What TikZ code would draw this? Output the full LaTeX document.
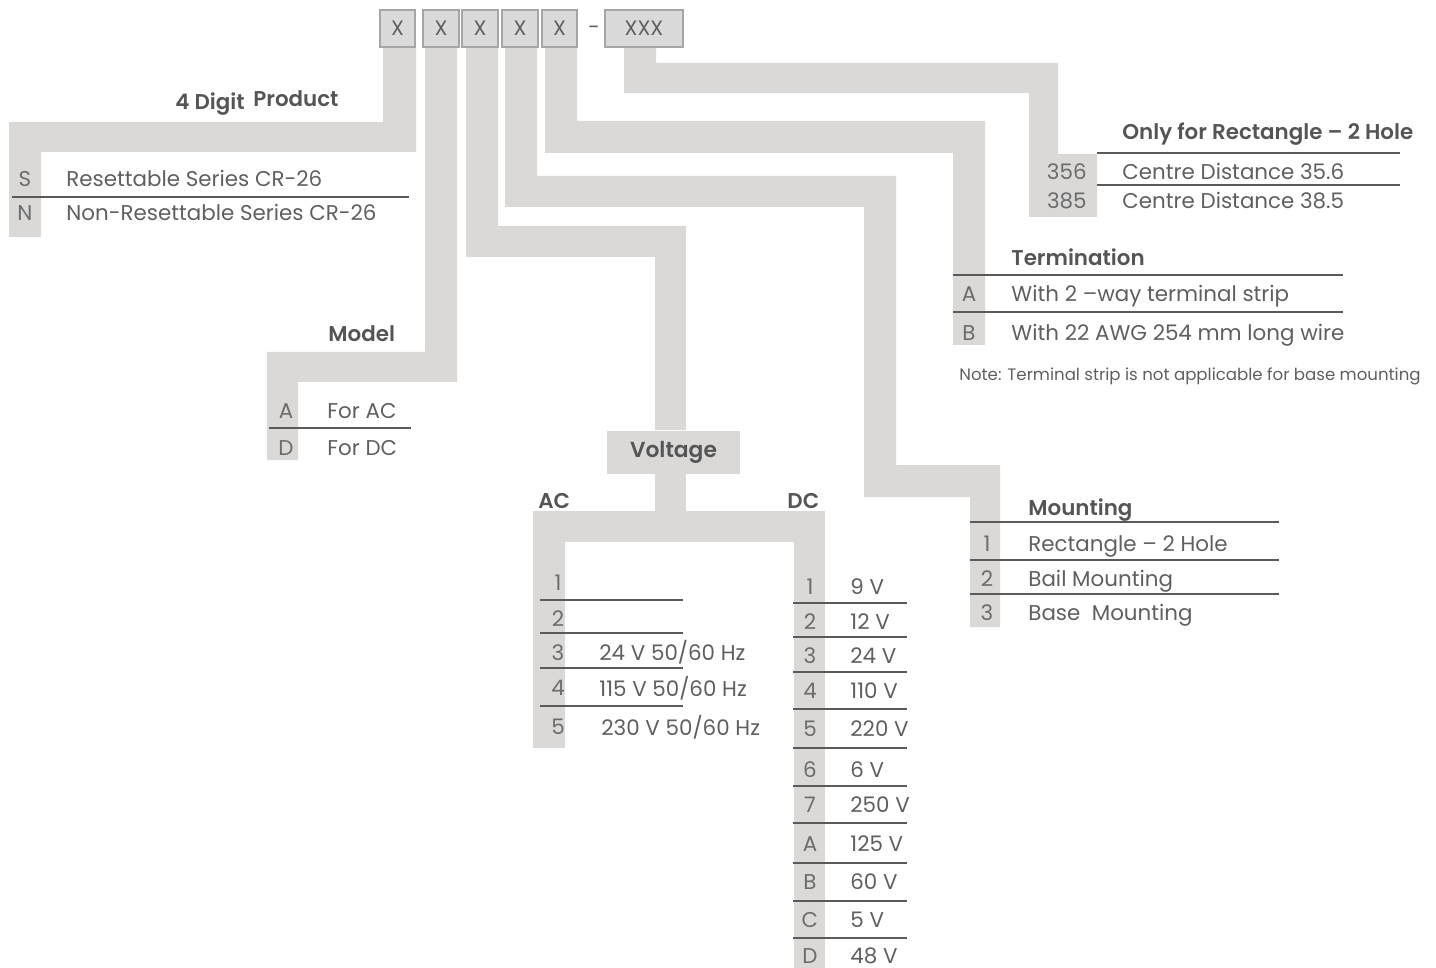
\documentclass[tikz,border=0pt]{standalone}
\usepackage{fontspec}
\setmainfont{Poppins}[BoldFont=* SemiBold]
\newcommand\mainsz{\fontsize{10.7}{12}\selectfont}
\begin{document}
\begin{tikzpicture}[x=0.5pt,y=-0.5pt,
  txt/.style={inner sep=0pt,anchor=base west,text=txtgray,font=\mainsz},
  lab/.style={inner sep=0pt,anchor=base,text=labgray,font=\mainsz},
  rlab/.style={inner sep=0pt,anchor=base east,text=labgray,font=\mainsz},
  hdr/.style={inner sep=0pt,anchor=base west,text=hdrgray,font=\mainsz\bfseries},
  note/.style={inner sep=0pt,anchor=base west,text=txtgray,font=\fontsize{8.3}{10}\selectfont},
  rule/.style={draw=rulegray,line width=0.6pt},
  bar/.style={fill=barfill},
  digit/.style={draw=boxedge,fill=boxfill,line width=1pt,inner sep=0pt,text=txtgray,font=\fontsize{10.4}{12}\selectfont,minimum height=18.5pt}
]
\definecolor{barfill}{RGB}{218,217,216}
\definecolor{boxfill}{RGB}{218,218,218}
\definecolor{boxedge}{RGB}{166,166,166}
\definecolor{txtgray}{RGB}{95,95,95}
\definecolor{labgray}{RGB}{108,108,108}
\definecolor{hdrgray}{RGB}{85,85,85}
\definecolor{rulegray}{RGB}{90,90,90}
\path[use as bounding box] (0,0) rectangle (1436,968);

% ---- bars ----
\fill[bar] (383,47) -- (416,47) -- (416,152) -- (41,152) -- (41,237) -- (9,237) -- (9,122) -- (383,122) -- cycle;
\fill[bar] (425,47) -- (457,47) -- (457,382) -- (298,382) -- (298,460) -- (267,460) -- (267,352) -- (425,352) -- cycle;
\fill[bar] (466,47) -- (498,47) -- (498,226) -- (686,226) -- (686,430) -- (655,430) -- (655,257) -- (466,257) -- cycle;
\fill[bar] (505,47) -- (537,47) -- (537,176) -- (896,176) -- (896,465) -- (1000,465) -- (1000,627) -- (970,627) -- (970,497) -- (864,497) -- (864,207) -- (505,207) -- cycle;
\fill[bar] (545,47) -- (577,47) -- (577,121) -- (985,121) -- (985,345) -- (953,345) -- (953,153) -- (545,153) -- cycle;
\fill[bar] (624,47) -- (656,47) -- (656,63) -- (1058,63) -- (1058,154) -- (1097,154) -- (1097,217) -- (1029,217) -- (1029,93) -- (624,93) -- cycle;
% voltage tree
\node[bar,minimum width=66.5pt,minimum height=21.5pt,inner sep=0pt,text=hdrgray,font=\fontsize{10.9}{12}\selectfont\bfseries] (volt) at (673.5,452) {Voltage};
\fill[bar] (655,473) rectangle (686,511);
\fill[bar] (533,511) rectangle (825,542);
\fill[bar] (533,542) rectangle (565,748);
\fill[bar] (794,542) rectangle (825,968);

% ---- top code boxes ----
\node[digit,minimum width=17.5pt] (b1) at (397.5,28.5) {X};
\node[digit,minimum width=18pt] (b2) at (441,28.5) {X};
\node[digit,minimum width=18pt] (b3) at (480,28.5) {X};
\node[digit,minimum width=18pt] (b4) at (520,28.5) {X};
\node[digit,minimum width=17.5pt] (b5) at (559.5,28.5) {X};
\node[inner sep=0pt,text=txtgray,font=\fontsize{10.4}{12}\selectfont] (dash) at (594,30) {-};
\node[digit,minimum width=39pt] (b6) at (644,28.5) {XXX};

% ---- 4 digit product ----
\node[hdr] (h1a) at (175,110) {4 Digit};
\node[hdr] (h1b) at (253,107) {Product};
\node[lab] (s) at (25,187) {S};
\node[txt] (st) at (66,187) {Resettable Series CR-26};
\draw[rule] (12,197) -- (409,197);
\node[lab] (n) at (25,221) {N};
\node[txt] (nt) at (66,221) {Non-Resettable Series CR-26};

% ---- model ----
\node[hdr] (h2) at (328,342) {Model};
\node[lab] (ma) at (286,419) {A};
\node[txt] (mat) at (327,419) {For AC};
\draw[rule] (269,428) -- (411,428);
\node[lab] (md) at (286,455) {D};
\node[txt] (mdt) at (327,455) {For DC};

% ---- AC / DC ----
\node[hdr] (ac) at (538,508) {AC};
\node[hdr] (dc) at (787,508) {DC};
\foreach \n/\y in {1/590,2/626,3/660,4/695,5/734} {\node[lab] (ac\n) at (558,\y) {\n};}
\foreach \y in {600,633,668,706} {\draw[rule] (540,\y) -- (683,\y);}
\node[txt] (ac3t) at (599,660) {24 V 50/60 Hz};
\node[txt] (ac4t) at (599,696) {115 V 50/60 Hz};
\node[txt] (ac5t) at (601,735) {230 V 50/60 Hz};
\foreach \n/\v/\y in {1/9 V/594,2/12 V/629,3/24 V/663,4/110 V/698,5/220 V/736,6/6 V/777,7/250 V/812,A/125 V/851,B/60 V/889,C/5 V/927,D/48 V/963} {
  \node[lab] (dcn\n) at (810,\y) {\n};
  \node[txt] (dcv\n) at (850,\y) {\v};
}
\foreach \y in {603,637,672,709,748,786,823,863,901,938} {\draw[rule] (793,\y) -- (907,\y);}

% ---- mounting ----
\node[hdr] (h4) at (1028,515) {Mounting};
\draw[rule] (970,522) -- (1279,522);
\node[lab] (m1) at (987,551) {1};
\node[txt] (m1t) at (1028,551) {Rectangle – 2 Hole};
\draw[rule] (970,560) -- (1279,560);
\node[lab] (m2) at (987,586) {2};
\node[txt] (m2t) at (1028,586) {Bail Mounting};
\draw[rule] (970,594) -- (1279,594);
\node[lab] (m3) at (987,620) {3};
\node[txt] (m3t) at (1028,620) {Base\ \ Mounting};

% ---- termination ----
\node[hdr] (h5) at (1011,266) {Termination};
\draw[rule] (953,275) -- (1343,275);
\node[lab] (ta) at (969,302) {A};
\node[txt] (tat) at (1011,302) {With 2 –way terminal strip};
\draw[rule] (953,312) -- (1343,312);
\node[lab] (tb) at (969,341) {B};
\node[txt] (tbt) at (1011,341) {With 22 AWG 254 mm long wire};
\node[note] (nt5) at (959,380) {Note: Terminal strip is not applicable for base mounting};

% ---- rectangle option ----
\node[hdr] (h6) at (1122,140) {Only for Rectangle – 2 Hole};
\draw[rule] (1097,153) -- (1400,153);
\node[rlab] (r1) at (1087,180) {356};
\node[txt] (r1t) at (1122,180) {Centre Distance 35.6};
\draw[rule] (1097,185) -- (1400,185);
\node[rlab] (r2) at (1087,209) {385};
\node[txt] (r2t) at (1122,209) {Centre Distance 38.5};
\end{tikzpicture}
\end{document}
